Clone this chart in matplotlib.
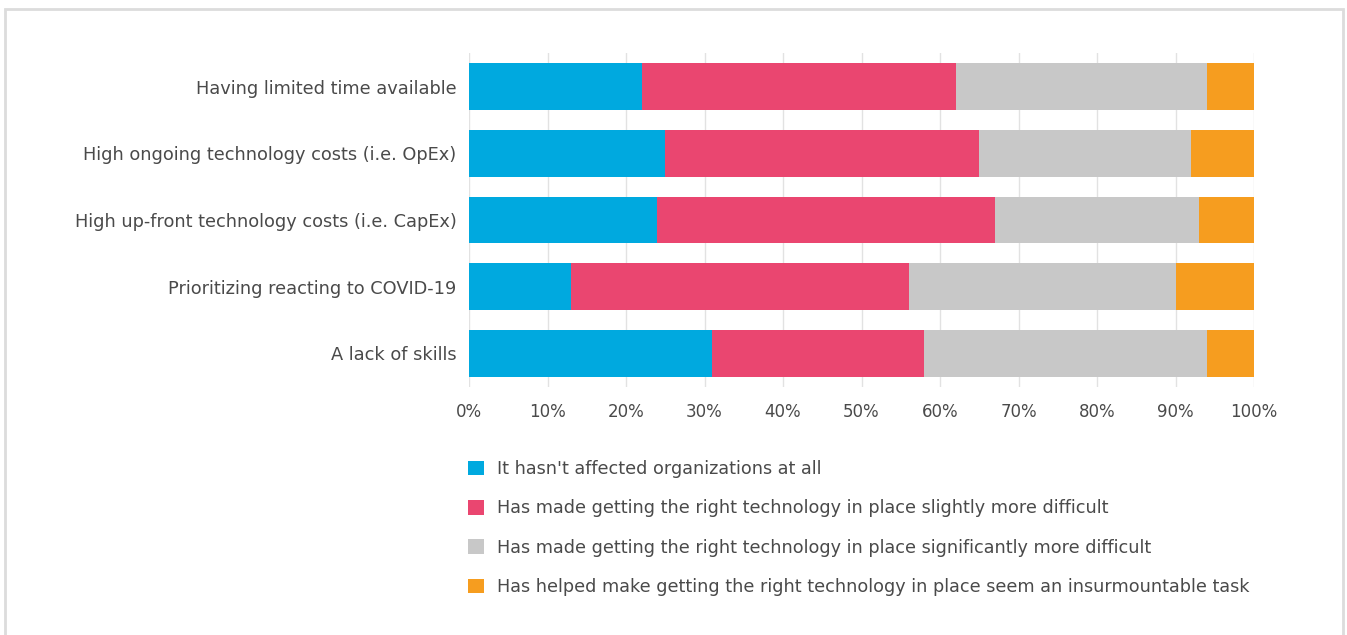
import matplotlib
matplotlib.use("Agg")
import matplotlib.pyplot as plt
from matplotlib.patches import Rectangle
import numpy as np

categories = [
    "Having limited time available",
    "High ongoing technology costs (i.e. OpEx)",
    "High up-front technology costs (i.e. CapEx)",
    "Prioritizing reacting to COVID-19",
    "A lack of skills",
]
series_names = [
    "It hasn't affected organizations at all",
    "Has made getting the right technology in place slightly more difficult",
    "Has made getting the right technology in place significantly more difficult",
    "Has helped make getting the right technology in place seem an insurmountable task",
]
not_affected = [22, 25, 24, 13, 31]
slightly = [40, 40, 43, 43, 27]
significantly = [32, 27, 26, 34, 36]
insurmountable = [6, 8, 7, 10, 6]
tick_values = [0, 10, 20, 30, 40, 50, 60, 70, 80, 90, 100]
tick_labels = [f"{v}%" for v in tick_values]

colors = ["#00A9DF", "#EA4670", "#C8C8C8", "#F69D1F"]
text_color = "#4a4a4a"

plt.rcParams["font.family"] = ["DejaVu Sans"]

fig = plt.figure(figsize=(13.47, 6.35), dpi=100)
ax = fig.add_axes([469 / 1347, 1 - 386.7 / 635, (1254 - 469) / 1347, (386.7 - 53.3) / 635])

series = [not_affected, slightly, significantly, insurmountable]
y = np.arange(len(categories))
left = np.zeros(len(categories))
handles = []
for vals, col, name in zip(series, colors, series_names):
    vals = np.array(vals, dtype=float)
    h = ax.barh(y, vals, left=left, height=0.7, color=col, label=name, zorder=2)
    handles.append(h)
    left += vals

ax.set_xlim(0, 100)
ax.set_ylim(len(categories) - 0.5, -0.5)
ax.set_xticks(tick_values)
ax.set_xticklabels(tick_labels, color=text_color, fontsize=12)
ax.set_yticks(y)
ax.set_yticklabels(categories, color=text_color, fontsize=12.8)
ax.tick_params(axis="both", length=0)
ax.tick_params(axis="y", pad=9)
ax.tick_params(axis="x", pad=12)
ax.grid(axis="x", color="#e2e2e2", linewidth=1, zorder=0)
for s in ax.spines.values():
    s.set_visible(False)

leg = fig.legend(handles=handles, labels=series_names, loc="upper left",
                 bbox_to_anchor=(468 / 1347, 1 - 460 / 635), frameon=False,
                 fontsize=12.7, handlelength=0.9, handleheight=0.9,
                 handletextpad=0.75, labelspacing=1.21, borderpad=0, borderaxespad=0)
for t in leg.get_texts():
    t.set_color(text_color)

fig.patches.append(Rectangle((5 / 1347, -0.05), (1343 - 5) / 1347, 1.05 - 9 / 635,
                             transform=fig.transFigure, fill=False,
                             edgecolor="#dcdcdc", linewidth=2))

fig.savefig("out.png", dpi=100, facecolor="white")
